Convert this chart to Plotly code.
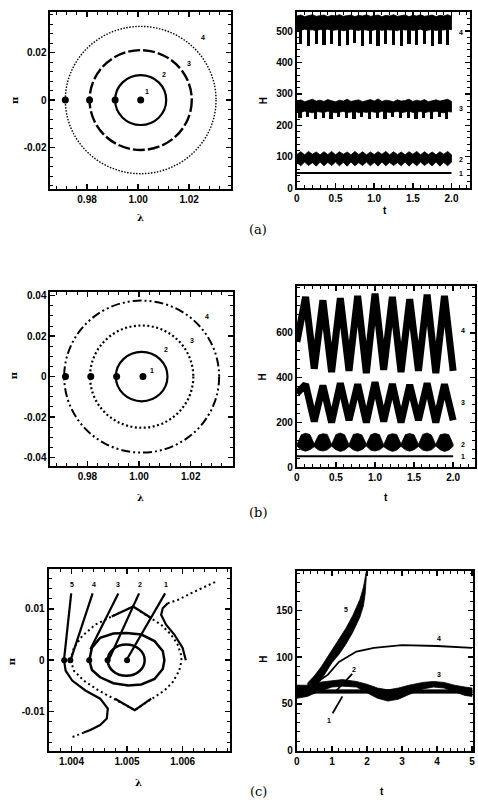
import plotly.graph_objects as go

# ================= DATA =================
# ---- (a) left : phase plane, lambda vs pi ----
a_center = [1.001, 0.0]
a_rx = [0.0100, 0.0200, 0.0295]          # rings 2,3,4 (lambda half width)
a_ry = [0.0105, 0.0210, 0.0310]          # rings 2,3,4 (pi half height)
a_dots_lam = [1.001, 0.991, 0.981, 0.9715]
a_dots_pi = [0, 0, 0, 0]
a_lab = ["1", "2", "3", "4"]
a_lab_lam = [1.0035, 1.0102, 1.0200, 1.0255]
a_lab_pi = [0.0034, 0.0108, 0.0152, 0.0262]

# ---- (a) right : H(t) ----
tA = [0.00, 0.05, 0.10, 0.15, 0.20, 0.25, 0.30, 0.35, 0.40, 0.45, 0.50, 0.55, 0.60, 0.65,
      0.70, 0.75, 0.80, 0.85, 0.90, 0.95, 1.00, 1.05, 1.10, 1.15, 1.20, 1.25, 1.30, 1.35,
      1.40, 1.45, 1.50, 1.55, 1.60, 1.65, 1.70, 1.75, 1.80, 1.85, 1.90, 1.95, 2.00]
a1_t = [0.0, 2.0]
a1_H = [48, 48]
a2_hi = [107, 116, 106, 117, 108, 115, 106, 116, 107, 117, 106, 116, 108, 115, 106, 117, 107, 116, 106, 115, 107,
         116, 108, 117, 106, 116, 107, 115, 106, 116, 108, 117, 106, 116, 107, 115, 106, 116, 108, 117, 106]
a2_lo = [82, 71, 83, 72, 81, 70, 83, 71, 82, 72, 83, 71, 82, 70, 83, 71, 81, 72, 83, 71, 82,
         70, 83, 71, 82, 72, 81, 71, 83, 70, 82, 71, 83, 72, 81, 71, 83, 70, 82, 71, 83]
a3_hi = [276, 281, 275, 279, 283, 277, 280, 276, 282, 278, 275, 280, 277, 283, 276, 279, 281, 275, 278, 282, 277,
         284, 276, 280, 278, 275, 281, 277, 279, 283, 276, 280, 277, 282, 275, 279, 281, 277, 280, 283, 276]
a3_lo = [244, 241, 245, 242, 240, 244, 243, 241, 245, 242, 240, 243, 244, 241, 242, 245, 240, 243, 241, 244, 242,
         240, 245, 243, 241, 242, 244, 240, 243, 245, 241, 242, 244, 240, 243, 242, 245, 241, 240, 244, 242]
a3_sp_t = [0.04, 0.14, 0.24, 0.34, 0.44, 0.54, 0.64, 0.74, 0.84, 0.94,
           1.04, 1.14, 1.24, 1.34, 1.44, 1.54, 1.64, 1.74, 1.84, 1.94]
a3_sp_lo = [222, 226, 220, 224, 221, 227, 222, 219, 225, 221, 223, 220, 226, 222, 224, 219, 223, 221, 225, 220]
a4_hi = [548, 551, 546, 550, 552, 547, 549, 551, 546, 550, 548, 552, 547, 549, 551, 546, 550, 548, 552, 547, 549,
         551, 546, 550, 548, 552, 547, 549, 551, 546, 550, 548, 552, 547, 549, 551, 546, 550, 548, 552, 547]
a4_lo = [505, 502, 506, 503, 504, 501, 505, 503, 506, 502, 504, 505, 501, 503, 506, 504, 502, 505, 503, 501, 504,
         506, 502, 505, 503, 504, 501, 506, 503, 505, 502, 504, 506, 501, 503, 505, 502, 504, 503, 506, 504]
a4_sp_t = [0.05, 0.15, 0.25, 0.35, 0.45, 0.55, 0.65, 0.75, 0.85, 0.95,
           1.05, 1.15, 1.25, 1.35, 1.45, 1.55, 1.65, 1.75, 1.85, 1.95]
a4_sp_lo = [458, 452, 460, 455, 459, 453, 457, 461, 454, 458, 452, 459, 456, 453, 460, 455, 458, 452, 459, 456]
aR_lab = ["4", "3", "2", "1"]
aR_lab_t = [2.12, 2.12, 2.12, 2.12]
aR_lab_H = [496, 252, 90, 48]

# ---- (b) left ----
b_center = [1.001, 0.0]
b_rx = [0.0100, 0.0200, 0.0300]
b_ry = [0.0122, 0.0253, 0.0376]
b_dots_lam = [1.0015, 0.9913, 0.9813, 0.9715]
b_dots_pi = [0, 0, 0, 0]
b_lab_lam = [1.0050, 1.0106, 1.0205, 1.0263]
b_lab_pi = [0.0032, 0.0135, 0.0180, 0.0297]

# ---- (b) right ----
tB = [0.000, 0.111, 0.222, 0.333, 0.444, 0.556, 0.667, 0.778, 0.889, 1.000,
      1.111, 1.222, 1.333, 1.444, 1.556, 1.667, 1.778, 1.889, 2.000]
b4_H = [560, 760, 440, 745, 425, 755, 430, 765, 420, 775, 435, 760, 425, 750, 430, 770, 420, 765, 430]
b3_H = [330, 370, 205, 365, 200, 375, 210, 370, 200, 380, 205, 372, 200, 368, 210, 375, 200, 370, 210]
tB2 = [0.000, 0.056, 0.111, 0.167, 0.222, 0.278, 0.333, 0.389, 0.444, 0.500, 0.556, 0.611, 0.667,
       0.722, 0.778, 0.833, 0.889, 0.944, 1.000, 1.056, 1.111, 1.167, 1.222, 1.278, 1.333, 1.389,
       1.444, 1.500, 1.556, 1.611, 1.667, 1.722, 1.778, 1.833, 1.889, 1.944, 2.000]
b2_hi = [100, 145, 152, 146, 104, 144, 150, 147, 102, 146, 153, 145, 101, 147, 151, 144, 103,
         145, 152, 146, 100, 144, 150, 147, 104, 146, 151, 145, 102, 147, 153, 144, 101, 145, 150, 146, 103]
b2_lo = [95, 78, 72, 79, 92, 77, 73, 78, 94, 79, 71, 77, 93, 78, 72, 79, 95,
         77, 73, 78, 92, 79, 71, 77, 94, 78, 72, 79, 93, 77, 73, 78, 95, 79, 71, 77, 94]
b1_t = [0.0, 2.0]
b1_H = [49, 49]
bR_lab_t = [2.13, 2.13, 2.13, 2.13]
bR_lab_H = [610, 287, 103, 49]

# ---- (c) left : distorted phase plane ----
c_dots_lam = [1.00500, 1.00465, 1.00432, 1.00398, 1.00387]
c_dots_pi = [0, 0, 0, 0, 0]
c2_center = [1.004985, 0.0]
c2_rx = 0.000332
c2_ry = 0.00305
c3_lam = [1.004321, 1.004369, 1.004517, 1.004754, 1.004991, 1.005257, 1.005494, 1.005642, 1.005672,
          1.005642, 1.005494, 1.005257, 1.005020, 1.004754, 1.004517, 1.004369, 1.004321]
c3_pi = [0.0, 0.00244, 0.00436, 0.00519, 0.00532, 0.00500, 0.00372, 0.00179, 0.0,
         -0.00173, -0.00365, -0.00474, -0.00494, -0.00449, -0.00333, -0.00190, 0.0]
c4_lam = [1.003985, 1.004044, 1.004192, 1.004429, 1.004725, 1.005110, 1.005376, 1.005613, 1.005790,
          1.005909, 1.005968, 1.005980, 1.005938, 1.005820, 1.005672, 1.005406, 1.005139, 1.004814,
          1.004488, 1.004221, 1.004044, 1.003985]
c4_pi = [0.0, 0.00244, 0.00468, 0.00692, 0.00853, 0.01045, 0.00853, 0.00692, 0.00500,
         0.00308, 0.00115, 0.0, -0.00205, -0.00429, -0.00590, -0.00782, -0.00974, -0.00782,
         -0.00590, -0.00397, -0.00205, 0.0]
c4top_lam = [1.004725, 1.005110, 1.005435]
c4top_pi = [0.00853, 0.01045, 0.00821]
c4bot_lam = [1.004784, 1.005139, 1.005435]
c4bot_pi = [-0.00750, -0.00974, -0.00750]
c5a_lam = [1.003866, 1.003896, 1.004014, 1.004251, 1.004517, 1.004654, 1.004636, 1.004517, 1.004340, 1.004221]
c5a_pi = [0.0, -0.00205, -0.00397, -0.00590, -0.00750, -0.00942, -0.01135, -0.01263, -0.01359, -0.01410]
c5a_dot_lam = [1.004221, 1.004103, 1.004014]
c5a_dot_pi = [-0.01410, -0.01455, -0.01500]
c5b_lam = [1.006057, 1.005998, 1.005850, 1.005702, 1.005613, 1.005642, 1.005731]
c5b_pi = [0.0, 0.00244, 0.00500, 0.00692, 0.00885, 0.01013, 0.01109]
c5b_dot_lam = [1.005731, 1.005909, 1.006146, 1.006382, 1.006590]
c5b_dot_pi = [0.01109, 0.01173, 0.01301, 0.01429, 0.01526]
c_lab = ["5", "4", "3", "2", "1"]
c_lab_lam = [1.004014, 1.004399, 1.004843, 1.005228, 1.005702]
c_lab_pi = [0.01474, 0.01474, 0.01474, 0.01474, 0.01474]
c_lead_lam0 = [1.003996, 1.004381, 1.004843, 1.005216, 1.005684]
c_lead_pi0 = [0.01301, 0.01301, 0.01301, 0.01301, 0.01301]
c_lead_lam1 = [1.003866, 1.003985, 1.004340, 1.004677, 1.005009]
c_lead_pi1 = [0.0, 0.0, 0.00212, 0.00019, 0.00038]

# ---- (c) right ----
c5_t = [0.30, 0.50, 0.70, 1.00, 1.20, 1.40, 1.60, 1.80, 1.90, 1.95, 1.98]
c5_hi = [72, 80, 90, 108, 119, 131, 145, 162, 175, 187, 191]
c5_lo = [62, 68, 76, 94, 103, 114, 127, 143, 155, 168, 185]
c4_t = [0.60, 0.88, 1.20, 1.70, 2.20, 3.00, 4.00, 5.00]
c4_H = [74, 81, 95, 106, 110, 113, 112, 110]
c3_t = [0.0, 0.3, 0.6, 1.0, 1.3, 1.7, 2.0, 2.3, 2.6, 2.9, 3.2, 3.6, 3.9, 4.2, 4.5, 4.8, 5.0]
c3_hi = [70, 70, 73, 75, 76, 74, 71, 67, 65, 67, 70, 73, 74, 73, 70, 68, 67]
c3_lo = [56, 58, 63, 68, 69, 68, 62, 56, 53, 55, 60, 66, 68, 67, 63, 59, 58]
c12_t = [0.0, 5.0]
c12_hi = [65, 65]
c12_lo = [61.5, 61.5]
cR_lab = ["5", "4", "3", "2", "1"]
cR_lab_t = [1.41, 4.05, 4.05, 1.63, 0.92]
cR_lab_H = [151, 120.5, 81, 87, 32]
c_lead2_t = [1.58, 1.10]
c_lead2_H = [82, 63]
c_lead1_t = [1.02, 1.30]
c_lead1_H = [40, 58]

# ================= FIGURE =================
W, Hh = 478, 810
fig = go.Figure()
BLACK = "black"


def dom_x(x0, x1):
    return [x0 / W, x1 / W]


def dom_y(y0, y1):
    return [1 - y1 / Hh, 1 - y0 / Hh]


tickfont = dict(family="Liberation Sans", size=10, color=BLACK, weight="bold")


def axis(domain, rng, tickvals, ticktext, minor_dtick, anchor, minor_tick0=0):
    return dict(domain=domain, range=rng, tickvals=tickvals, ticktext=ticktext,
                showline=True, linecolor=BLACK, linewidth=2, mirror="ticks",
                ticks="inside", ticklen=5, tickwidth=1.5, tickcolor=BLACK,
                minor=dict(ticks="inside", ticklen=3, tickwidth=1, tickcolor=BLACK,
                           dtick=minor_dtick, tick0=minor_tick0),
                showgrid=False, zeroline=False, tickfont=tickfont, anchor=anchor)


lay = {}
lay["xaxis"] = axis(dom_x(48, 230), [0.9657, 1.0362], [0.98, 1.00, 1.02], ["0.98", "1.00", "1.02"], 0.004, "y")
lay["yaxis"] = axis(dom_y(10, 189), [-0.0375, 0.0371], [-0.02, 0, 0.02], ["-0.02", "0", "0.02"], 0.004, "x")
lay["xaxis2"] = axis(dom_x(297, 472), [0, 2.24], [0, 0.5, 1, 1.5, 2], ["0", "0.5", "1.0", "1.5", "2.0"], 0.1, "y2")
lay["yaxis2"] = axis(dom_y(10, 188), [0, 561], [0, 100, 200, 300, 400, 500], ["0", "100", "200", "300", "400", "500"], 20, "x2")
lay["xaxis3"] = axis(dom_x(48, 232), [0.9657, 1.0362], [0.98, 1.00, 1.02], ["0.98", "1.00", "1.02"], 0.004, "y3")
lay["yaxis3"] = axis(dom_y(293, 469), [-0.0444, 0.0418], [-0.04, -0.02, 0, 0.02, 0.04],
                     ["-0.04", "-0.02", "0", "0.02", "0.04"], 0.005, "x3")
lay["xaxis4"] = axis(dom_x(297, 477), [0, 2.28], [0, 0.5, 1, 1.5, 2], ["0", "0.5", "1.0", "1.5", "2.0"], 0.1, "y4")
lay["yaxis4"] = axis(dom_y(287, 470), [0, 808], [0, 200, 400, 600], ["0", "200", "400", "600"], 40, "x4")
lay["xaxis5"] = axis(dom_x(46, 229), [1.003588, 1.006844], [1.004, 1.005, 1.006], ["1.004", "1.005", "1.006"], 0.0002, "y5")
lay["yaxis5"] = axis(dom_y(573, 756), [-0.0176, 0.0177], [-0.01, 0, 0.01], ["-0.01", "0", "0.01"], 0.002, "x5")
lay["xaxis6"] = axis(dom_x(297, 475), [0, 5.03], [0, 1, 2, 3, 4, 5], ["0", "1", "2", "3", "4", "5"], 0.2, "y6")
lay["yaxis6"] = axis(dom_y(575, 756), [0, 192], [0, 50, 100, 150], ["0", "50", "100", "150"], 10, "x6")


def line(x, y, xa, ya, width=2, dash="solid"):
    fig.add_trace(go.Scatter(x=x, y=y, mode="lines", xaxis=xa, yaxis=ya, hoverinfo="skip",
                             line=dict(color=BLACK, width=width, dash=dash)))


def band(t, hi, lo, xa, ya):
    fig.add_trace(go.Scatter(x=list(t) + list(t)[::-1], y=list(hi) + list(lo)[::-1], mode="lines",
                             fill="toself", fillcolor=BLACK, xaxis=xa, yaxis=ya, hoverinfo="skip",
                             line=dict(color=BLACK, width=0.8)))


def spikes(t, lo, top, xa, ya, w):
    # narrow downward spikes from the band bottom (top) to the spike minimum (lo)
    fig.add_trace(go.Bar(x=t, base=lo, y=[top - v for v in lo], width=w, xaxis=xa, yaxis=ya,
                         marker=dict(color=BLACK, line=dict(width=0)), hoverinfo="skip"))


def dots(x, y, xa, ya, size=7):
    fig.add_trace(go.Scatter(x=x, y=y, mode="markers", xaxis=xa, yaxis=ya, hoverinfo="skip",
                             marker=dict(color=BLACK, size=size)))


shapes = []


def ring(center, rx, ry, xr, yr, width, dash):
    shapes.append(dict(type="circle", xref=xr, yref=yr,
                       x0=center[0] - rx, x1=center[0] + rx, y0=center[1] - ry, y1=center[1] + ry,
                       line=dict(color=BLACK, width=width, dash=dash)))


annots = []


def label(txt, x, y, xr, yr, size=8):
    annots.append(dict(text=txt, x=x, y=y, xref=xr, yref=yr, showarrow=False,
                       xanchor="center", yanchor="middle",
                       font=dict(family="Liberation Sans", size=size, color=BLACK, weight="bold")))


# ---- (a) left ----
ring(a_center, a_rx[0], a_ry[0], "x", "y", 2.2, "solid")
ring(a_center, a_rx[1], a_ry[1], "x", "y", 2.4, "12px,3px")
ring(a_center, a_rx[2], a_ry[2], "x", "y", 1.4, "1.5px,1.5px")
dots(a_dots_lam, a_dots_pi, "x", "y")
for s, lx, ly in zip(a_lab, a_lab_lam, a_lab_pi):
    label(s, lx, ly, "x", "y", 7)

# ---- (a) right ----
band(tA, a4_hi, a4_lo, "x2", "y2")
spikes(a4_sp_t, a4_sp_lo, 508, "x2", "y2", 0.042)
band(tA, a3_hi, a3_lo, "x2", "y2")
spikes(a3_sp_t, a3_sp_lo, 246, "x2", "y2", 0.042)
band(tA, a2_hi, a2_lo, "x2", "y2")
line(a1_t, a1_H, "x2", "y2", 2)
for s, lx, ly in zip(aR_lab, aR_lab_t, aR_lab_H):
    label(s, lx, ly, "x2", "y2", 7)

# ---- (b) left ----
ring(b_center, b_rx[0], b_ry[0], "x3", "y3", 2.2, "solid")
ring(b_center, b_rx[1], b_ry[1], "x3", "y3", 2.2, "2px,2.5px")
ring(b_center, b_rx[2], b_ry[2], "x3", "y3", 2, "9px,3px,2px,3px,2px,3px")
dots(b_dots_lam, b_dots_pi, "x3", "y3")
for s, lx, ly in zip(a_lab, b_lab_lam, b_lab_pi):
    label(s, lx, ly, "x3", "y3", 7)

# ---- (b) right ----
line(tB, b4_H, "x4", "y4", 7)
line(tB, b3_H, "x4", "y4", 7)
band(tB2, b2_hi, b2_lo, "x4", "y4")
line(b1_t, b1_H, "x4", "y4", 2)
for s, lx, ly in zip(aR_lab, bR_lab_t, bR_lab_H):
    label(s, lx, ly, "x4", "y4", 7)

# ---- (c) left ----
ring(c2_center, c2_rx, c2_ry, "x5", "y5", 2.5, "solid")
line(c3_lam, c3_pi, "x5", "y5", 2.5)
line(c4_lam, c4_pi, "x5", "y5", 2, "2px,3px")
line(c4top_lam, c4top_pi, "x5", "y5", 2.2)
line(c4bot_lam, c4bot_pi, "x5", "y5", 2.2)
line(c5a_lam, c5a_pi, "x5", "y5", 2.2)
line(c5a_dot_lam, c5a_dot_pi, "x5", "y5", 2, "2px,3px")
line(c5b_lam, c5b_pi, "x5", "y5", 2.2)
line(c5b_dot_lam, c5b_dot_pi, "x5", "y5", 2, "2px,3px")
for i in range(len(c_lab)):
    line([c_lead_lam0[i], c_lead_lam1[i]], [c_lead_pi0[i], c_lead_pi1[i]], "x5", "y5", 2.2)
    label(c_lab[i], c_lab_lam[i], c_lab_pi[i], "x5", "y5", 7)
dots(c_dots_lam, c_dots_pi, "x5", "y5", 6)

# ---- (c) right ----
band(c5_t, c5_hi, c5_lo, "x6", "y6")
band(c3_t, c3_hi, c3_lo, "x6", "y6")
band(c12_t, c12_hi, c12_lo, "x6", "y6")
line(c4_t, c4_H, "x6", "y6", 1.8)
line(c_lead2_t, c_lead2_H, "x6", "y6", 1.8)
line(c_lead1_t, c_lead1_H, "x6", "y6", 1.8)
for s, lx, ly in zip(cR_lab, cR_lab_t, cR_lab_H):
    label(s, lx, ly, "x6", "y6", 7)


# ---- axis titles and panel letters (paper coords) ----
def ptext(txt, xpix, ypix, size=11, angle=0, family="DejaVu Serif", bold=True):
    annots.append(dict(text=txt, x=xpix / W, y=1 - ypix / Hh, xref="paper", yref="paper",
                       showarrow=False, textangle=angle, xanchor="center", yanchor="middle",
                       font=dict(family=family, size=size, color=BLACK,
                                 weight="bold" if bold else "normal")))


ptext("λ", 139, 218, 10)
ptext("π", 11, 99, 10, -90)
ptext("H", 263, 100, 10, -90, "Liberation Sans")
ptext("t", 386, 211, 10, 0, "Liberation Sans")
ptext("(a)", 258, 230, 13, 0, "DejaVu Serif", False)

ptext("λ", 139, 500, 10)
ptext("π", 10, 377, 10, -90)
ptext("H", 262, 379, 10, -90, "Liberation Sans")
ptext("t", 387, 500, 10, 0, "Liberation Sans")
ptext("(b)", 258, 516, 13, 0, "DejaVu Serif", False)

ptext("λ", 137, 788, 10)
ptext("π", 9, 666, 10, -90)
ptext("H", 263, 664, 10, -90, "Liberation Sans")
ptext("t", 383, 797, 10, 0, "Liberation Sans")
ptext("(c)", 258, 797, 13, 0, "DejaVu Serif", False)

fig.update_layout(width=W, height=Hh, margin=dict(l=0, r=0, t=0, b=0),
                  paper_bgcolor="white", plot_bgcolor="white", showlegend=False,
                  barmode="overlay", bargap=0, hovermode=False,
                  shapes=shapes, annotations=annots, **lay)

fig.write_html("out.html", config={"displayModeBar": False, "staticPlot": True},
               post_script="document.body.style.margin='0px';document.body.style.overflow='hidden';")
